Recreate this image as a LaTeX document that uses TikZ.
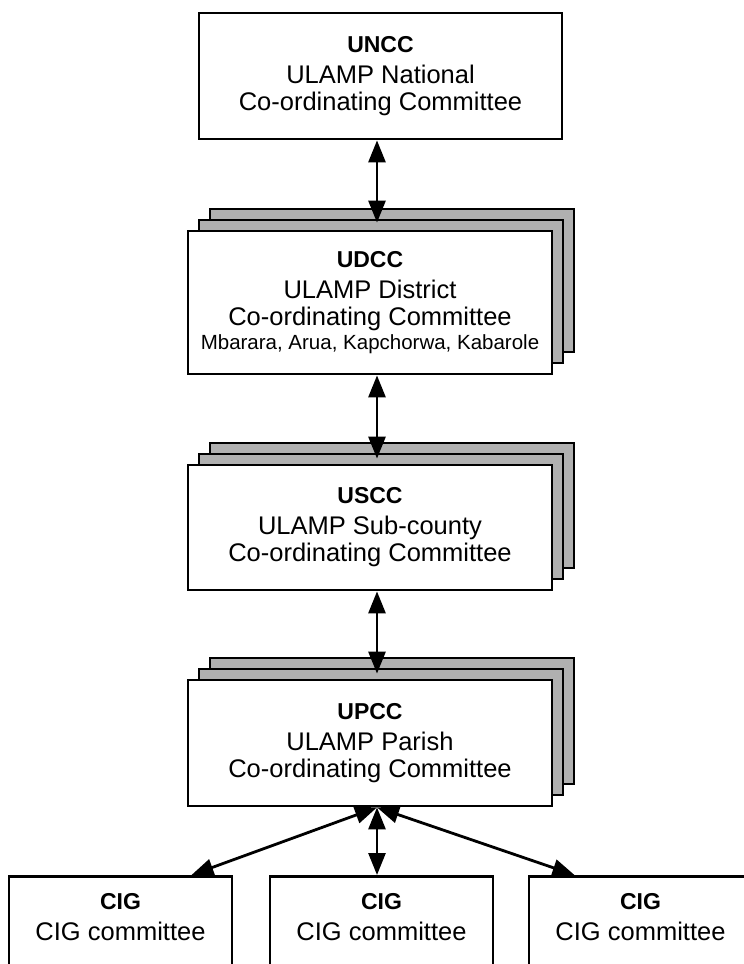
\documentclass[tikz,border=0pt]{standalone}
\usepackage{fontspec}
\setmainfont{Liberation Sans}
\usetikzlibrary{shadows,arrows.meta}

\newcommand{\cmtabbr}[1]{{\fontsize{23}{27}\selectfont\bfseries #1}\\[4pt]}

\begin{document}
\begin{tikzpicture}[x=1pt, y=-1pt,
    every node/.style={draw, rectangle, line width=2.8pt, fill=white, align=center,
        font=\fontsize{25.5}{27}\selectfont},
    cttee/.style={minimum width=364pt},
    stacked/.style={cttee, double copy shadow={shadow xshift=11pt, shadow yshift=11pt,
        fill=black!31, draw=black, line width=2.8pt}},
    cig/.style={minimum width=223pt, minimum height=108pt, anchor=north},
    link/.style={line width=2.8pt, {Triangle[length=22pt,width=17pt]}-{Triangle[length=22pt,width=17pt]}},
    ]
  \useasboundingbox (0,0) rectangle (744,964);
  \coordinate (spine) at (377,0);

  % committees, top to bottom
  \node[cttee, minimum width=363pt, minimum height=126pt] (uncc) at (380.5,76)
      {\cmtabbr{UNCC}ULAMP National\\Co-ordinating Committee};
  \node[stacked, minimum height=143pt] (udcc) at (370,302.5)
      {\cmtabbr{UDCC}ULAMP District\\Co-ordinating Committee\\[-3pt]
       {\fontsize{20.5}{24}\selectfont Mbarara, Arua, Kapchorwa, Kabarole}};
  \node[stacked, minimum height=125pt] (uscc) at (370,527.5)
      {\cmtabbr{USCC}ULAMP Sub-county\\Co-ordinating Committee};
  \node[stacked, minimum height=126pt] (upcc) at (370,743)
      {\cmtabbr{UPCC}ULAMP Parish\\Co-ordinating Committee};

  % common interest groups
  \node[cig] (cig1) at (120.5,875) {\cmtabbr{CIG}CIG committee\\\mbox{}};
  \node[cig] (cig2) at (381.5,875) {\cmtabbr{CIG}CIG committee\\\mbox{}};
  \node[cig] (cig3) at (640.5,875) {\cmtabbr{CIG}CIG committee\\\mbox{}};

  \draw[link, shorten >=7pt] (spine |- uncc.south) -- (spine |- udcc.north);
  \draw[link, shorten >=5pt] (spine |- udcc.south) -- (spine |- uscc.north);
  \draw[link, shorten >=5pt] (spine |- uscc.south) -- (spine |- upcc.north);
  \draw[link] (spine |- upcc.south) -- ([xshift=71pt]cig1.north);
  \draw[link] (spine |- upcc.south) -- (spine |- cig2.north);
  \draw[link] (spine |- upcc.south) -- ([xshift=-66pt]cig3.north);
\end{tikzpicture}
\end{document}
